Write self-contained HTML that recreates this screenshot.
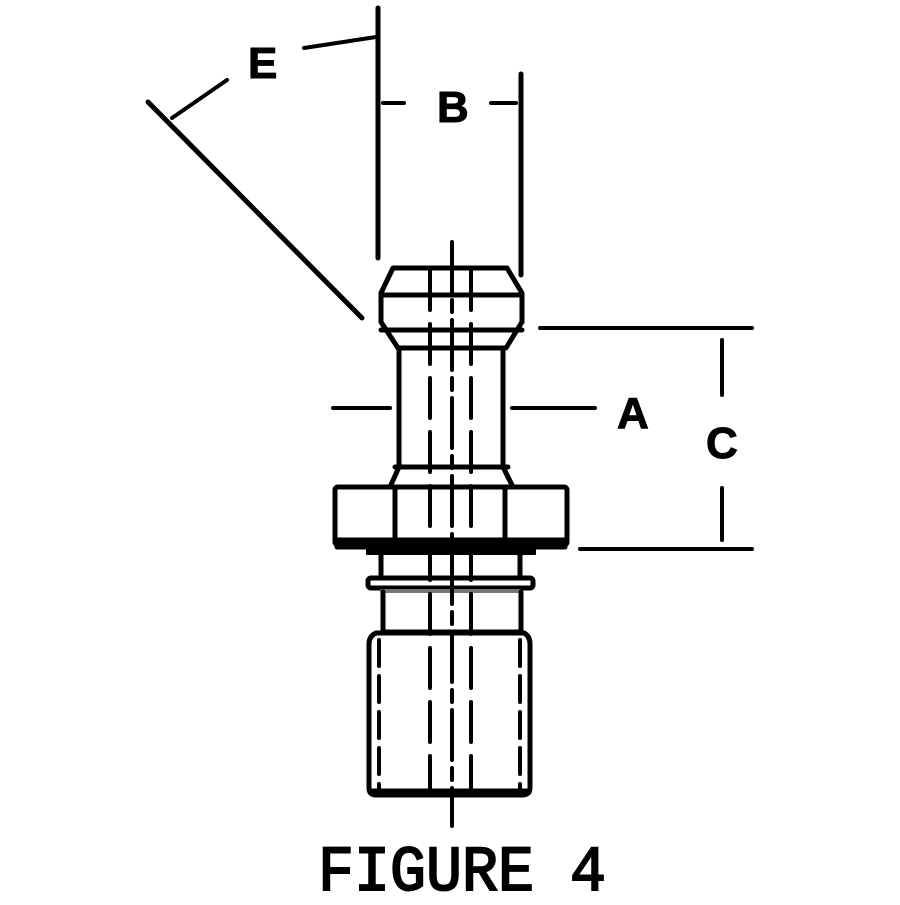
<!DOCTYPE html>
<html><head><style>html,body{margin:0;padding:0;background:#fff}</style></head>
<body>
<svg width="900" height="900" viewBox="0 0 900 900" xmlns="http://www.w3.org/2000/svg">
<g fill="none" stroke="#000" stroke-width="5" stroke-linecap="round" stroke-linejoin="round">
<line x1="378" y1="8" x2="378" y2="258"/>
<line x1="521" y1="74" x2="521" y2="275"/>
<line x1="383" y1="103" x2="404" y2="103" stroke-width="4"/>
<line x1="491" y1="103" x2="516" y2="103" stroke-width="4"/>
<line x1="148" y1="102" x2="362" y2="318"/>
<line x1="172" y1="118" x2="227" y2="80" stroke-width="4"/>
<line x1="304" y1="48" x2="376" y2="37" stroke-width="4"/>
<path d="M393 268 L507 268 L522 293 L522 322 L506 348 L398 348 L381 322 L381 293 Z"/>
<line x1="383" y1="295" x2="522" y2="295"/>
<line x1="381" y1="330" x2="522" y2="330"/>
<line x1="399" y1="348" x2="399" y2="467"/>
<line x1="503" y1="348" x2="503" y2="467"/>
<path d="M399 467 L390 487 M503 467 L513 487"/>
<line x1="395" y1="467" x2="508" y2="467"/>
<rect x="335" y="487" width="232" height="58" rx="3"/>
<line x1="395" y1="489" x2="395" y2="543"/>
<line x1="505" y1="489" x2="505" y2="543"/>
<rect x="337" y="540" width="228" height="7" fill="#000"/>
<rect x="367" y="547" width="168" height="7" fill="#000" stroke-width="2"/>
<line x1="381" y1="554" x2="381" y2="578"/>
<line x1="520" y1="554" x2="520" y2="578"/>
<rect x="368" y="578" width="165" height="10" rx="3"/>
<line x1="382" y1="591" x2="520" y2="591" stroke="#777" stroke-width="4"/>
<line x1="383" y1="592" x2="383" y2="632"/>
<line x1="521" y1="592" x2="521" y2="632"/>
<line x1="383" y1="632" x2="521" y2="632"/>
<path d="M376 633 L524 633 Q530 636 530 644 L530 788 Q530 795 522 795 L376 795 Q369 795 369 788 L369 644 Q369 636 376 633 Z"/>
<line x1="371" y1="792" x2="528" y2="792" stroke-width="7"/>
<g stroke-dasharray="26 10">
<line x1="379" y1="640" x2="379" y2="788" stroke-width="4"/>
<line x1="520" y1="640" x2="520" y2="788" stroke-width="4"/>
</g>
<line x1="452" y1="242" x2="452" y2="826" stroke-dasharray="50 8 12 8" stroke-width="4"/>
<g stroke-dasharray="40 14" stroke-width="4">
<line x1="430" y1="270" x2="430" y2="795"/>
<line x1="471" y1="270" x2="471" y2="795"/>
</g>
<line x1="333" y1="408" x2="390" y2="408" stroke-width="4"/>
<line x1="512" y1="408" x2="595" y2="408" stroke-width="4"/>
<line x1="540" y1="328" x2="752" y2="328" stroke-width="4"/>
<line x1="580" y1="549" x2="752" y2="549" stroke-width="4"/>
<line x1="722" y1="340" x2="722" y2="395" stroke-width="4"/>
<line x1="722" y1="488" x2="722" y2="540" stroke-width="4"/>
</g>
<g font-family="Liberation Sans, sans-serif" font-weight="bold" font-size="44" fill="#000" stroke="#000" stroke-width="1">
<text x="248" y="78">E</text>
<text x="437" y="122">B</text>
<text x="617" y="428">A</text>
<text x="706" y="458">C</text>
</g>
<text x="318" y="890" font-family="Liberation Mono, monospace" font-size="64" textLength="288" lengthAdjust="spacingAndGlyphs" fill="#000" stroke="#000" stroke-width="2">FIGURE 4</text>
</svg>
</body></html>
